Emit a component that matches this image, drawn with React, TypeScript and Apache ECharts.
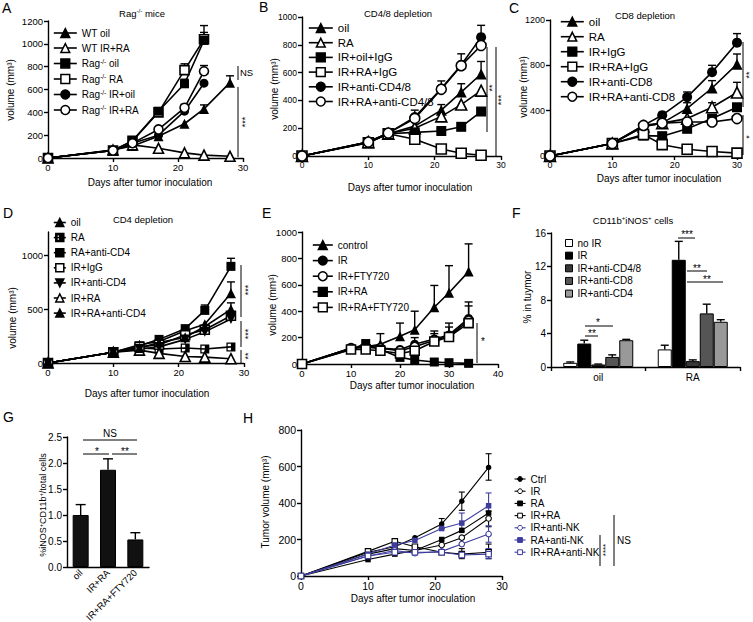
import React, { useEffect, useRef } from 'react';
import * as echarts from 'echarts';

const FONT = '"Liberation Sans", Arial, sans-serif';
const BLUE = '#3d3d9e';

// ---------- Panel A ----------
const A_DAYS_WT = [0, 10, 13, 17, 21, 24, 28];
const A_DAYS_RAG = [0, 10, 13, 17, 21, 24];
const A_WT_OIL = [0, 70, 105, 190, 300, 430, 660];
const A_WT_OIL_ERR = [null, null, null, null, null, 465, 720];
const A_WT_IRRA = [0, 70, 115, 85, 45, 25, 15];
const A_RAG_OIL = [0, 65, 150, 410, 650, 1030];
const A_RAG_OIL_ERR = [null, null, null, null, 690, 1160];
const A_RAG_RA = [0, 65, 150, 400, 770, 1040];
const A_RAG_RA_ERR = [null, null, null, null, 825, 1100];
const A_RAG_IROIL = [0, 65, 130, 200, 410, 655];
const A_RAG_IRRA = [0, 65, 130, 250, 440, 760];
const A_RAG_IRRA_ERR = [null, null, null, null, 470, 810];

// ---------- Panel B ----------
const B_DAYS = [0, 10, 13, 17, 21, 24, 27];
const B_OIL = [0, 100, 160, 215, 330, 460, 590];
const B_OIL_ERR = [null, null, null, null, 370, 520, 680];
const B_RA = [0, 100, 160, 200, 285, 370, 470];
const B_IROIL_IGG = [0, 95, 160, 170, 180, 210, 320];
const B_IRRA_IGG = [0, 95, 160, 120, 50, 20, 5];
const B_IR_ANTI = [0, 100, 165, 280, 485, 655, 855];
const B_IR_ANTI_ERR = [null, null, null, 330, 540, 735, 940];
const B_IRRA_ANTI = [0, 100, 165, 270, 480, 650, 795];

// ---------- Panel C ----------
const C_DAYS = [0, 10, 15, 18, 22, 26, 30];
const C_OIL = [0, 110, 260, 290, 420, 600, 810];
const C_OIL_ERR = [null, null, null, null, 470, 665, 900];
const C_RA = [0, 110, 260, 290, 330, 430, 560];
const C_RA_ERR = [null, null, null, null, null, 470, 650];
const C_IR_IGG = [0, 110, 180, 175, 240, 330, 430];
const C_IRRA_IGG = [0, 110, 190, 100, 60, 40, 25];
const C_IR_ANTI = [0, 110, 270, 360, 520, 740, 1000];
const C_IR_ANTI_ERR = [null, null, null, null, 565, 800, 1080];
const C_IRRA_ANTI = [0, 110, 270, 290, 300, 300, 330];

// ---------- Panel D ----------
const D_DAYS = [0, 10, 14, 17, 21, 24, 28];
const D_OIL = [0, 100, 170, 200, 300, 360, 650];
const D_OIL_ERR = [null, null, null, null, null, null, 755];
const D_RA = [0, 100, 140, 130, 140, 130, 150];
const D_RA_ANTI = [0, 100, 160, 220, 320, 490, 900];
const D_RA_ANTI_ERR = [null, null, null, null, null, 540, 975];
const D_IR_IGG = [0, 100, 150, 170, 260, 310, 440];
const D_IR_ANTI = [0, 100, 130, 150, 220, 290, 410];
const D_IRRA = [0, 100, 120, 90, 60, 55, 40];
const D_IRRA_ANTI = [0, 100, 140, 190, 240, 340, 500];
const D_IRRA_ANTI_ERR = [null, null, null, null, null, null, 560];

// ---------- Panel E ----------
const E_DAYS = [0, 10, 13, 16, 20, 23, 27, 30, 34];
const E_CONTROL = [0, 120, 130, 150, 210, 260, 430, 540, 700];
const E_CONTROL_ERR = [null, null, null, 230, 310, 400, 595, 745, 910];
const E_IR = [0, 120, 130, 120, 110, 150, 190, 220, 345];
const E_IR_ERR = [null, null, null, null, null, 200, 250, 310, 470];
const E_IR_FTY = [0, 120, 130, 120, 100, 130, 180, 210, 330];
const E_IR_FTY_ERR = [null, null, null, null, null, null, 230, 280, 440];
const E_IRRA = [0, 110, 155, 110, 50, 30, 15, 10, 5];
const E_IRRA_FTY = [0, 110, 110, 100, 80, 100, 170, 205, 310];

// ---------- Panel F ----------
const F_CATS = ['oil', 'RA'];
const F_NOIR = [0.5, 2.1];
const F_NOIR_ERR = [0.6, 2.6];
const F_IR = [2.8, 12.8];
const F_IR_ERR = [3.2, 15.0];
const F_CD48 = [0.3, 0.7];
const F_CD48_ERR = [0.35, 0.85];
const F_CD8 = [1.2, 6.4];
const F_CD8_ERR = [1.45, 7.5];
const F_CD4 = [3.2, 5.4];
const F_CD4_ERR = [3.3, 5.65];

// ---------- Panel G ----------
const G_CATS = ['oil', 'IR+RA', 'IR+RA+FTY720'];
const G_VALS = [1.0, 1.87, 0.53];
const G_ERR = [1.2, 2.08, 0.66];

// ---------- Panel H ----------
const H_DAYS = [0, 10, 14, 17, 21, 24, 28];
const H_CTRL = [0, 130, 160, 210, 285, 410, 595];
const H_CTRL_LO = [null, null, null, null, 260, 360, 525];
const H_CTRL_HI = [null, null, null, null, 315, 460, 670];
const H_IR = [0, 120, 150, 140, 170, 210, 315];
const H_IR_LO = [null, null, null, null, null, null, 270];
const H_IR_HI = [null, null, null, null, null, null, 355];
const H_RA = [0, 90, 120, 140, 200, 250, 345];
const H_IRRA = [0, 135, 190, 160, 130, 120, 130];
const H_IRRA_LO = [null, null, null, null, null, 95, 95];
const H_IRRA_HI = [null, null, null, null, null, 150, 175];
const H_IRNK = [0, 110, 140, 125, 135, 175, 230];
const H_IRNK_LO = [null, null, null, null, null, null, 185];
const H_IRNK_HI = [null, null, null, null, null, null, 275];
const H_RANK = [0, 120, 170, 195, 260, 290, 385];
const H_RANK_LO = [null, null, null, null, null, 245, 320];
const H_RANK_HI = [null, null, null, null, null, 345, 455];
const H_IRRANK = [0, 110, 130, 130, 130, 115, 120];
const H_IRRANK_LO = [null, null, null, null, null, null, 95];
const H_IRRANK_HI = [null, null, null, null, null, null, 150];

type Sym = 'tri' | 'triO' | 'sq' | 'sqO' | 'ci' | 'ciO' | 'triD' | 'sqH';
const SYM: Record<Sym, { symbol: string; fill: boolean }> = {
  tri: { symbol: 'triangle', fill: true },
  triO: { symbol: 'triangle', fill: false },
  sq: { symbol: 'rect', fill: true },
  sqO: { symbol: 'rect', fill: false },
  ci: { symbol: 'circle', fill: true },
  ciO: { symbol: 'circle', fill: false },
  triD: { symbol: 'path://M0,0L10,0L5,9Z', fill: true },
  sqH: { symbol: 'path://M0,0H10V10H0Z M1.4,1.4V8.6H5V1.4Z', fill: true },
};

const LW = 1.6;

function ls(p: number, name: string, xs: number[], ys: number[], s: Sym, size: number, color = '#000', lw = LW) {
  const d = SYM[s];
  return {
    type: 'line',
    name: `${p}|${name}`,
    xAxisIndex: p,
    yAxisIndex: p,
    data: xs.map((x, i) => [x, ys[i]]),
    symbol: d.symbol,
    symbolSize: size,
    showAllSymbol: true,
    lineStyle: { color, width: lw },
    itemStyle: { color: d.fill ? color : '#fff', borderColor: color, borderWidth: d.fill ? 0 : lw },
    emphasis: { disabled: true },
    silent: true,
    z: 3,
  };
}

function es(p: number, xs: number[], ys: number[], tops: (number | null)[], bots: (number | null)[] | null, color = '#000', cap = 4, lw = 1.4) {
  const data: number[][] = [];
  xs.forEach((x, i) => {
    const t = tops[i];
    if (t != null) data.push([x, t, bots ? (bots[i] as number) : ys[i]]);
  });
  return {
    type: 'custom',
    xAxisIndex: p,
    yAxisIndex: p,
    silent: true,
    z: 2,
    data,
    renderItem: (_params: any, api: any) => {
      const x = api.value(0);
      const a = api.coord([x, api.value(1)]);
      const b = api.coord([x, api.value(2)]);
      const st = { stroke: color, lineWidth: lw };
      const ch: any[] = [
        { type: 'line', shape: { x1: a[0], y1: a[1], x2: b[0], y2: b[1] }, style: st },
        { type: 'line', shape: { x1: a[0] - cap, y1: a[1], x2: a[0] + cap, y2: a[1] }, style: st },
      ];
      if (bots) ch.push({ type: 'line', shape: { x1: b[0] - cap, y1: b[1], x2: b[0] + cap, y2: b[1] }, style: st });
      return { type: 'group', children: ch };
    },
  };
}

function barErr(p: number, vals: number[], tops: number[], offset: number, cap: number) {
  return {
    type: 'custom',
    xAxisIndex: p,
    yAxisIndex: p,
    silent: true,
    z: 4,
    data: vals.map((v, i) => [i, tops[i], v]),
    renderItem: (_params: any, api: any) => {
      const a = api.coord([api.value(0), api.value(1)]);
      const b = api.coord([api.value(0), api.value(2)]);
      const x = a[0] + offset;
      const st = { stroke: '#000', lineWidth: 1.4 };
      return {
        type: 'group',
        children: [
          { type: 'line', shape: { x1: x, y1: a[1], x2: x, y2: b[1] }, style: st },
          { type: 'line', shape: { x1: x - cap, y1: a[1], x2: x + cap, y2: a[1] }, style: st },
        ],
      };
    },
  };
}

const axLine = { show: true, onZero: false, lineStyle: { color: '#000', width: 1.4 } };
const axTick = { show: true, length: 4, lineStyle: { color: '#000', width: 1.4 } };
const plain = (v: number) => String(v);

function xv(p: number, max: number, interval: number, fs: number) {
  return {
    type: 'value', gridIndex: p, min: 0, max, interval,
    axisLine: axLine, axisTick: axTick, splitLine: { show: false },
    axisLabel: { color: '#000', fontSize: fs, fontFamily: FONT, margin: 4, formatter: plain },
  };
}
function yv(p: number, max: number, interval: number, fs: number, extra: any = {}) {
  return {
    type: 'value', gridIndex: p, min: 0, max, interval,
    axisLine: axLine, axisTick: { ...axTick, ...(extra.tick || {}) }, splitLine: { show: false },
    axisLabel: { color: '#000', fontSize: fs, fontFamily: FONT, margin: 5, formatter: plain, ...(extra.label || {}) },
  };
}

function fmtName(n: string) {
  if (n.indexOf('Rag-/-') === 0) return `{t|Rag}{s|-/-}{t|${n.slice(6)}}`;
  return n;
}

function lg(p: number, names: string[], left: number, top: number, o: any) {
  return {
    data: names.map((n) => `${p}|${n}`),
    left, top, orient: 'vertical', padding: 0,
    itemWidth: o.w, itemHeight: o.h, itemGap: o.gap, selectedMode: false,
    icon: o.icon,
    formatter: (n: string) => fmtName(n.split('|')[1]),
    textStyle: {
      fontSize: o.fs, fontFamily: FONT, color: '#000', lineHeight: o.lh,
      rich: {
        t: { fontSize: o.fs, fontFamily: FONT, color: '#000' },
        s: { fontSize: 6.5, fontFamily: FONT, color: '#000', padding: [0, 0, 5, 0] },
      },
    },
    itemStyle: { borderWidth: o.bw ?? 1.5 },
    lineStyle: { width: o.lw ?? LW },
  };
}

function txt(x: number, y: number, text: string, fs: number, o: any = {}) {
  return {
    type: 'text', x, y, rotation: o.rot ?? 0, silent: true, z: 10,
    style: {
      text, fontSize: fs, fontFamily: FONT, fill: '#000',
      align: o.align ?? 'center', verticalAlign: 'middle',
      rich: o.rich,
    },
  };
}
function ln(x1: number, y1: number, x2: number, y2: number) {
  return { type: 'line', silent: true, z: 10, shape: { x1, y1, x2, y2 }, style: { stroke: '#000', lineWidth: 1 } };
}
const R90 = Math.PI / 2;
function richOf(fs: number) {
  return {
    t: { fontSize: fs, fontFamily: FONT, fill: '#000' },
    s: { fontSize: fs * 0.65, fontFamily: FONT, fill: '#000', padding: [0, 0, fs * 0.55, 0] },
  };
}

function buildOption() {
  const grids = [
    { left: 48, top: 21, width: 195, height: 137 },
    { left: 302, top: 17, width: 199, height: 139 },
    { left: 550, top: 20, width: 187, height: 136 },
    { left: 48, top: 232, width: 196, height: 131 },
    { left: 302, top: 232, width: 196, height: 132 },
    { left: 551, top: 233, width: 189, height: 134 },
    { left: 67, top: 437, width: 82, height: 130 },
    { left: 301, top: 430, width: 201, height: 146 },
  ].map((g) => ({ ...g, containLabel: false, outerBoundsMode: 'none' }));

  const xAxis = [
    xv(0, 30, 10, 9.5),
    xv(1, 30, 10, 8.5),
    xv(2, 30, 10, 9),
    xv(3, 30, 10, 9.5),
    xv(4, 40, 10, 9.5),
    {
      type: 'category', gridIndex: 5, data: F_CATS,
      axisLine: axLine, axisTick: { ...axTick, alignWithLabel: false }, splitLine: { show: false },
      axisLabel: { color: '#000', fontSize: 10, fontFamily: FONT, margin: 5 },
    },
    {
      type: 'category', gridIndex: 6, data: G_CATS,
      axisLine: axLine, axisTick: { show: false }, splitLine: { show: false },
      axisLabel: { color: '#000', fontSize: 9.5, fontFamily: FONT, margin: 4, rotate: 45, interval: 0 },
    },
    xv(7, 30, 10, 10.5),
  ];

  const yAxis = [
    yv(0, 1200, 200, 9.5),
    yv(1, 1000, 200, 8.5),
    yv(2, 1200, 400, 9),
    yv(3, 1220, 500, 9.5, { tick: { customValues: [0, 500, 1000] }, label: { customValues: [0, 500, 1000] } }),
    yv(4, 1000, 200, 9.5),
    yv(5, 16, 4, 10),
    yv(6, 2.5, 0.5, 10, { label: { formatter: (v: number) => v.toFixed(1) } }),
    yv(7, 800, 200, 10.5),
  ];

  const series: any[] = [
    // A
    es(0, A_DAYS_WT, A_WT_OIL, A_WT_OIL_ERR, null),
    es(0, A_DAYS_RAG, A_RAG_OIL, A_RAG_OIL_ERR, null),
    es(0, A_DAYS_RAG, A_RAG_RA, A_RAG_RA_ERR, null),
    es(0, A_DAYS_RAG, A_RAG_IRRA, A_RAG_IRRA_ERR, null),
    ls(0, 'WT oil', A_DAYS_WT, A_WT_OIL, 'tri', 10),
    ls(0, 'WT IR+RA', A_DAYS_WT, A_WT_IRRA, 'triO', 10),
    ls(0, 'Rag-/- RA', A_DAYS_RAG, A_RAG_RA, 'sqO', 9),
    ls(0, 'Rag-/- oil', A_DAYS_RAG, A_RAG_OIL, 'sq', 9),
    ls(0, 'Rag-/- IR+oil', A_DAYS_RAG, A_RAG_IROIL, 'ci', 9),
    ls(0, 'Rag-/- IR+RA', A_DAYS_RAG, A_RAG_IRRA, 'ciO', 9),
    // B
    es(1, B_DAYS, B_OIL, B_OIL_ERR, null),
    es(1, B_DAYS, B_IR_ANTI, B_IR_ANTI_ERR, null),
    ls(1, 'oil', B_DAYS, B_OIL, 'tri', 11),
    ls(1, 'RA', B_DAYS, B_RA, 'triO', 11),
    ls(1, 'IR+oil+IgG', B_DAYS, B_IROIL_IGG, 'sq', 10),
    ls(1, 'IR+RA+IgG', B_DAYS, B_IRRA_IGG, 'sqO', 10),
    ls(1, 'IR+anti-CD4/8', B_DAYS, B_IR_ANTI, 'ci', 10),
    ls(1, 'IR+RA+anti-CD4/8', B_DAYS, B_IRRA_ANTI, 'ciO', 10),
    // C
    es(2, C_DAYS, C_OIL, C_OIL_ERR, null),
    es(2, C_DAYS, C_RA, C_RA_ERR, null),
    es(2, C_DAYS, C_IR_ANTI, C_IR_ANTI_ERR, null),
    ls(2, 'oil', C_DAYS, C_OIL, 'tri', 11),
    ls(2, 'RA', C_DAYS, C_RA, 'triO', 11),
    ls(2, 'IR+IgG', C_DAYS, C_IR_IGG, 'sq', 10),
    ls(2, 'IR+RA+IgG', C_DAYS, C_IRRA_IGG, 'sqO', 10),
    ls(2, 'IR+anti-CD8', C_DAYS, C_IR_ANTI, 'ci', 10),
    ls(2, 'IR+RA+anti-CD8', C_DAYS, C_IRRA_ANTI, 'ciO', 10),
    // D
    es(3, D_DAYS, D_OIL, D_OIL_ERR, null),
    es(3, D_DAYS, D_RA_ANTI, D_RA_ANTI_ERR, null),
    es(3, D_DAYS, D_IRRA_ANTI, D_IRRA_ANTI_ERR, null),
    ls(3, 'oil', D_DAYS, D_OIL, 'tri', 10),
    ls(3, 'RA', D_DAYS, D_RA, 'sqH', 9),
    ls(3, 'RA+anti-CD4', D_DAYS, D_RA_ANTI, 'sq', 9),
    ls(3, 'IR+IgG', D_DAYS, D_IR_IGG, 'sqO', 9),
    ls(3, 'IR+anti-CD4', D_DAYS, D_IR_ANTI, 'triD', 10),
    ls(3, 'IR+RA', D_DAYS, D_IRRA, 'triO', 10),
    ls(3, 'IR+RA+anti-CD4', D_DAYS, D_IRRA_ANTI, 'tri', 10),
    // E
    es(4, E_DAYS, E_CONTROL, E_CONTROL_ERR, null),
    es(4, E_DAYS, E_IR, E_IR_ERR, null),
    es(4, E_DAYS, E_IR_FTY, E_IR_FTY_ERR, null),
    ls(4, 'control', E_DAYS, E_CONTROL, 'tri', 10),
    ls(4, 'IR', E_DAYS, E_IR, 'ci', 9),
    ls(4, 'IR+FTY720', E_DAYS, E_IR_FTY, 'ciO', 9),
    ls(4, 'IR+RA', E_DAYS, E_IRRA, 'sq', 9),
    ls(4, 'IR+RA+FTY720', E_DAYS, E_IRRA_FTY, 'sqO', 9),
    // F
    ...[
      ['no IR', F_NOIR, '#ffffff'],
      ['IR', F_IR, '#000000'],
      ['IR+anti-CD4/8', F_CD48, '#383838'],
      ['IR+anti-CD8', F_CD8, '#555555'],
      ['IR+anti-CD4', F_CD4, '#999999'],
    ].map(([n, v, c]) => ({
      type: 'bar', name: `5|${n}`, xAxisIndex: 5, yAxisIndex: 5, data: v,
      barWidth: 14, barGap: '0%', silent: true,
      itemStyle: { color: c, borderColor: '#000', borderWidth: 1 },
    })),
    barErr(5, F_NOIR, F_NOIR_ERR, -28, 4),
    barErr(5, F_IR, F_IR_ERR, -14, 4),
    barErr(5, F_CD48, F_CD48_ERR, 0, 4),
    barErr(5, F_CD8, F_CD8_ERR, 14, 4),
    barErr(5, F_CD4, F_CD4_ERR, 28, 4),
    // G
    {
      type: 'bar', name: '6|G', xAxisIndex: 6, yAxisIndex: 6, data: G_VALS, barWidth: 16, silent: true,
      itemStyle: { color: '#111', borderColor: '#000', borderWidth: 1 },
    },
    barErr(6, G_VALS, G_ERR, 0, 5),
    // H
    es(7, H_DAYS, H_CTRL, H_CTRL_HI, H_CTRL_LO, '#000', 3, 1.1),
    es(7, H_DAYS, H_IR, H_IR_HI, H_IR_LO, '#000', 3, 1.1),
    es(7, H_DAYS, H_IRRA, H_IRRA_HI, H_IRRA_LO, '#000', 3, 1.1),
    es(7, H_DAYS, H_IRNK, H_IRNK_HI, H_IRNK_LO, BLUE, 3, 1.1),
    es(7, H_DAYS, H_RANK, H_RANK_HI, H_RANK_LO, BLUE, 3, 1.1),
    es(7, H_DAYS, H_IRRANK, H_IRRANK_HI, H_IRRANK_LO, BLUE, 3, 1.1),
    ls(7, 'Ctrl', H_DAYS, H_CTRL, 'ci', 5.5, '#000', 1.1),
    ls(7, 'IR', H_DAYS, H_IR, 'ciO', 5.5, '#000', 1.1),
    ls(7, 'RA', H_DAYS, H_RA, 'sq', 5.5, '#000', 1.1),
    ls(7, 'IR+RA', H_DAYS, H_IRRA, 'sqO', 5.5, '#000', 1.1),
    ls(7, 'IR+anti-NK', H_DAYS, H_IRNK, 'ciO', 5.5, BLUE, 1.1),
    ls(7, 'RA+anti-NK', H_DAYS, H_RANK, 'sq', 5.5, BLUE, 1.1),
    ls(7, 'IR+RA+anti-NK', H_DAYS, H_IRRANK, 'sqO', 5.5, BLUE, 1.1),
  ];

  const legend = [
    lg(0, ['WT oil', 'WT IR+RA', 'Rag-/- oil', 'Rag-/- RA', 'Rag-/- IR+oil', 'Rag-/- IR+RA'], 53, 27.5, { w: 23, h: 11, gap: 4, fs: 10, lh: 11 }),
    lg(1, ['oil', 'RA', 'IR+oil+IgG', 'IR+RA+IgG', 'IR+anti-CD4/8', 'IR+RA+anti-CD4/8'], 308, 22, { w: 24, h: 11, gap: 2.7, fs: 11.5, lh: 12 }),
    lg(2, ['oil', 'RA', 'IR+IgG', 'IR+RA+IgG', 'IR+anti-CD8', 'IR+RA+anti-CD8'], 560, 15.7, { w: 23, h: 11, gap: 3, fs: 11.5, lh: 12 }),
    lg(3, ['oil', 'RA', 'RA+anti-CD4', 'IR+IgG', 'IR+anti-CD4', 'IR+RA', 'IR+RA+anti-CD4'], 53, 217.5, { w: 12, h: 10, gap: 5.1, fs: 10, lh: 10 }),
    lg(4, ['control', 'IR', 'IR+FTY720', 'IR+RA', 'IR+RA+FTY720'], 312, 239.5, { w: 20, h: 11, gap: 4.6, fs: 10, lh: 11 }),
    lg(5, ['no IR', 'IR', 'IR+anti-CD4/8', 'IR+anti-CD8', 'IR+anti-CD4'], 565, 238, { w: 7, h: 7, gap: 2.65, fs: 10, lh: 10, icon: 'rect', bw: 1 }),
    lg(7, ['Ctrl', 'IR', 'RA', 'IR+RA', 'IR+anti-NK', 'RA+anti-NK', 'IR+RA+anti-NK'], 514, 474, { w: 11, h: 6, gap: 2.2, fs: 10, lh: 10, lw: 1.1, bw: 1 }),
  ];

  const DAYS = 'Days after tumor inoculation';
  const VOL = 'volume (mm³)';
  const elements: any[] = [
    // panel letters
    txt(2, 8, 'A', 14, { align: 'left' }),
    txt(259, 7, 'B', 14, { align: 'left' }),
    txt(509, 8, 'C', 14, { align: 'left' }),
    txt(3, 213, 'D', 14, { align: 'left' }),
    txt(262, 213, 'E', 14, { align: 'left' }),
    txt(512, 213, 'F', 14, { align: 'left' }),
    txt(3, 417, 'G', 14, { align: 'left' }),
    txt(243, 418, 'H', 14, { align: 'left' }),
    // titles
    txt(142, 13, '{t|Rag}{s|-/-}{t| mice}', 9.5, { rich: richOf(9.5) }),
    txt(398, 13, 'CD4/8 depletion', 9.5),
    txt(645, 15, 'CD8 depletion', 9.5),
    txt(143, 219, 'CD4 depletion', 9.5),
    txt(633, 220, '{t|CD11b}{s|+}{t|iNOS}{s|+}{t| cells}', 9.5, { rich: richOf(9.5) }),
    // x-axis names
    txt(150, 182, DAYS, 10),
    txt(410, 187, DAYS, 10),
    txt(659, 178, DAYS, 10),
    txt(147, 393, DAYS, 10),
    txt(412, 385, DAYS, 10),
    txt(413, 598, DAYS, 10),
    // y-axis names
    txt(10, 90, VOL, 10, { rot: R90 }),
    txt(274, 89, VOL, 10, { rot: R90 }),
    txt(523, 87, VOL, 10, { rot: R90 }),
    txt(12, 318, VOL, 10, { rot: R90 }),
    txt(272, 305, VOL, 10, { rot: R90 }),
    txt(527, 297, '% in tuymor', 10, { rot: R90 }),
    txt(43, 505, '{t|%iNOS}{s|+}{t|CD11b}{s|+}{t|/total cells}', 9, { rot: R90, rich: richOf(9) }),
    txt(265, 502, 'Tumor volume (mm³)', 10, { rot: R90 }),
    // A significance
    ln(238, 66, 238, 80), txt(240, 72, 'NS', 9.5, { align: 'left' }),
    ln(238, 87, 238, 157), txt(245, 122, '***', 9, { rot: R90 }),
    // B
    ln(487, 47, 487, 132), txt(492, 88, '**', 9, { rot: R90 }),
    ln(496, 47, 496, 156), txt(501, 100, '***', 9, { rot: R90 }),
    // C
    ln(743, 42, 743, 107), txt(749, 75, '**', 9, { rot: R90 }),
    ln(743, 115, 743, 155), txt(749, 137, '*', 9, { rot: R90 }),
    // D
    ln(241, 265, 241, 317), txt(248, 290, '***', 9, { rot: R90 }),
    ln(241, 321, 241, 347), txt(248, 334, '***', 9, { rot: R90 }),
    ln(241, 350, 241, 363), txt(248, 356, '**', 9, { rot: R90 }),
    // E
    ln(477, 323, 477, 363), txt(483, 341, '*', 10),
    // F
    txt(687, 234, '***', 10), ln(678, 238, 695, 238),
    txt(697, 268, '**', 10), ln(687, 271, 707, 271),
    txt(707, 279, '**', 10), ln(687, 282, 723, 282),
    txt(598, 322, '*', 10), ln(585, 326, 613, 326),
    txt(592, 333, '**', 10), ln(585, 336, 598, 336),
    // G
    txt(110, 433, 'NS', 10), ln(83, 440, 137, 440),
    txt(97, 451, '*', 10), ln(83, 454, 109, 454),
    txt(125, 451, '**', 10), ln(112, 454, 137, 454),
    // H
    ln(614, 515, 614, 566), txt(617, 540, 'NS', 10, { align: 'left' }),
    ln(600, 535, 600, 566), txt(605, 550, '****', 8, { rot: R90 }),
  ];

  return {
    animation: false,
    backgroundColor: '#fff',
    textStyle: { fontFamily: FONT },
    grid: grids,
    xAxis,
    yAxis,
    legend,
    series,
    graphic: { elements },
  };
}

export default function App() {
  const ref = useRef<HTMLDivElement>(null);
  useEffect(() => {
    const chart = echarts.init(ref.current as HTMLDivElement, null, { renderer: 'svg' });
    chart.setOption(buildOption() as any);
    return () => chart.dispose();
  }, []);
  return (
    <div
      ref={ref}
      style={{ position: 'fixed', left: 0, top: 0, width: 753, height: 622, background: '#fff' }}
    />
  );
}
